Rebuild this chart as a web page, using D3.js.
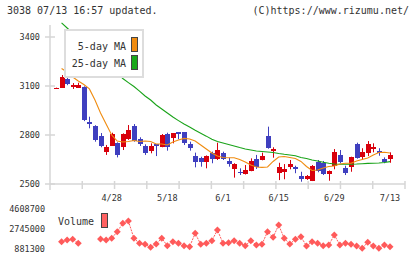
<!DOCTYPE html>
<html lang="en">
<meta charset="utf-8">
<head>
    <script src='https://d3js.org/d3.v7.min.js'></script>
    <style>
        body { margin: 0; background: #fff; }
        text { font-family: "DejaVu Sans Mono", monospace; fill: #333; }
    </style>
</head>
<body>
<div id="chart"></div>

<script>
// trading days shown
const dates = ["4/14","4/15","4/16","4/17","4/20","4/21","4/22","4/23","4/24","4/27",
    "4/28","4/30","5/1","5/7","5/8","5/11","5/12","5/13","5/14","5/15",
    "5/18","5/19","5/20","5/21","5/22","5/25","5/26","5/27","5/28","5/29",
    "6/1","6/2","6/3","6/4","6/5","6/8","6/9","6/10","6/11","6/12",
    "6/15","6/16","6/17","6/18","6/19","6/22","6/23","6/24","6/25","6/26",
    "6/29","6/30","7/1","7/2","7/3","7/6","7/7","7/8","7/9","7/10","7/13"];
const dateLabels = ["4/28","5/18","6/1","6/15","6/29","7/13"];

const open = [3085,3088,3143,3092,3090,3092,2881,2855,2794,2698,
    2733,2749,2728,2774,2855,2774,2733,2704,2743,2728,
    2806,2783,2816,2816,2745,2671,2661,2637,2688,2653,
    2692,2641,2592,2575,2561,2581,2653,2647,2794,2702,
    2566,2575,2606,2604,2551,2531,2520,2637,2630,2559,
    2612,2678,2600,2606,2745,2667,2692,2714,2704,2653,2653];
const high = [3090,3167,3157,3118,3120,3098,2912,2860,2812,2739,
    2814,2755,2810,2861,2867,2786,2743,2749,2745,2806,
    2814,2812,2816,2818,2759,2692,2667,2675,2698,2753,
    2698,2661,2627,2596,2616,2657,2678,2692,2851,2725,
    2630,2622,2647,2612,2575,2555,2616,2647,2641,2583,
    2714,2708,2612,2667,2753,2719,2763,2749,2719,2663,2694];
const low = [3085,3088,3105,3082,3088,2885,2841,2759,2725,2678,
    2733,2663,2708,2770,2759,2733,2678,2688,2671,2725,
    2704,2749,2774,2739,2704,2602,2606,2596,2627,2647,
    2647,2606,2539,2555,2558,2578,2592,2645,2716,2661,
    2524,2529,2590,2566,2514,2525,2518,2572,2555,2520,
    2590,2627,2555,2575,2655,2647,2671,2694,2673,2627,2630];
const close = [3088,3155,3110,3106,3106,2892,2867,2769,2733,2728,
    2806,2678,2806,2831,2765,2745,2688,2733,2735,2800,
    2725,2810,2806,2749,2719,2637,2637,2671,2653,2708,
    2653,2621,2622,2566,2586,2641,2602,2673,2719,2714,
    2602,2592,2622,2592,2531,2551,2610,2580,2559,2580,
    2698,2637,2566,2663,2657,2698,2745,2728,2688,2637,2678];

// moving averages as drawn
const ma5 = [null,3207,3186,3155,3131,3109,3082,3014,2935,2867,
    2800,2763,2757,2760,2766,2760,2763,2760,2745,2745,
    2739,2757,2769,2779,2776,2763,2739,2714,2690,2671,
    2662,2661,2661,2650,2635,2616,2604,2602,2604,2638,
    2665,2668,2662,2656,2638,2607,2583,2586,2598,2607,
    2610,2622,2627,2627,2641,2650,2659,2678,2693,2694,2690];
const ma25 = [null,3486,3455,3424,3394,3363,3333,3302,3271,3241,
    3210,3180,3146,3121,3097,3069,3039,3014,2984,2959,
    2935,2910,2888,2867,2849,2829,2811,2793,2774,2760,
    2751,2742,2733,2723,2714,2708,2702,2699,2696,2693,
    2687,2682,2678,2673,2662,2656,2647,2641,2633,2627,
    2622,2621,2621,2621,2622,2624,2626,2627,2629,2632,2637];

const volume = [null,1560000,1720000,1785000,1412000,null,null,null,1813000,1720000,
    1878000,2493000,3276000,3490000,1878000,1412000,1319000,1040000,1347000,1878000,
    1189000,1560000,1412000,1189000,1096000,2344000,1319000,1412000,1655000,2652000,
    1412000,1468000,1655000,1412000,1189000,1655000,1254000,1319000,2493000,1972000,
    3118000,1878000,1347000,1785000,2027000,1161000,1560000,1412000,1189000,1254000,
    2186000,1254000,1412000,1319000,1161000,947000,1506000,1161000,947000,1254000,1096000];

const priceTicks = [2500, 2800, 3100, 3400];
const volTicks = [881300, 2745000, 4608700];

const W = 420, H = 259;
const up = "#d8000c", down = "#3f3fbf";
const axisColor = "#d6d6d6";

var svg = d3.select('#chart')
    .append("svg")
    .attr("width", W)
    .attr("height", H);

// scales
var x = d3.scalePoint().domain(dates).range([56, 390]);
var y = d3.scaleLinear().domain([2500, 3400]).range([184, 37]);
var yv = d3.scaleLinear().domain([881300, 4608700]).range([249, 209]);

svg.append("clipPath").attr("id", "plot")
    .append("rect").attr("x", 50).attr("y", 22).attr("width", 356).attr("height", 163);

// header
svg.append("text").attr("x", 7).attr("y", 14).style("font-size", "10px")
    .text("3038 07/13 16:57 updated.");
svg.append("text").attr("x", 409).attr("y", 14).attr("text-anchor", "end").style("font-size", "10px")
    .text("(C)https://www.rizumu.net/");

// y axis
svg.append("line").attr("x1", 50).attr("x2", 50).attr("y1", 25).attr("y2", 190)
    .attr("stroke", axisColor).attr("stroke-width", 1.5);
svg.selectAll(".ytick").data(priceTicks).enter().append("line")
    .attr("x1", 45).attr("x2", 55)
    .attr("y1", d => y(d)).attr("y2", d => y(d))
    .attr("stroke", axisColor).attr("stroke-width", 1.5);
svg.selectAll(".ylab").data(priceTicks).enter().append("text")
    .attr("x", 40).attr("y", d => y(d)).attr("dy", "0.35em")
    .attr("text-anchor", "end").style("font-size", "8.5px")
    .text(d => d);

// x axis
svg.append("line").attr("x1", 50).attr("x2", 405).attr("y1", 184).attr("y2", 184)
    .attr("stroke", axisColor).attr("stroke-width", 1.5);
var grid = d3.scaleLinear().domain([0, 11]).range([50, 405]);
svg.selectAll(".xtick").data(d3.range(1, 12)).enter().append("line")
    .attr("x1", d => grid(d)).attr("x2", d => grid(d))
    .attr("y1", 181).attr("y2", 189)
    .attr("stroke", axisColor).attr("stroke-width", 1.5);
svg.selectAll(".xlab").data(dateLabels).enter().append("text")
    .attr("x", d => x(d)).attr("y", 201)
    .attr("text-anchor", "middle").style("font-size", "8.5px")
    .text(d => d);

var plot = svg.append("g").attr("clip-path", "url(#plot)");

// candles
var idx = d3.range(dates.length);
plot.selectAll(".wick").data(idx).enter().append("line")
    .attr("x1", i => Math.round(x(dates[i])) + 0.5)
    .attr("x2", i => Math.round(x(dates[i])) + 0.5)
    .attr("y1", i => y(high[i])).attr("y2", i => y(low[i]))
    .attr("stroke", i => close[i] >= open[i] ? up : down)
    .attr("stroke-width", 1);
plot.selectAll(".body").data(idx).enter().append("rect")
    .attr("x", i => Math.round(x(dates[i])) - 2)
    .attr("width", 5)
    .attr("y", i => y(Math.max(open[i], close[i])))
    .attr("height", i => Math.max(1, Math.abs(y(open[i]) - y(close[i]))))
    .attr("fill", i => close[i] >= open[i] ? up : down)
    .attr("shape-rendering", "crispEdges");

// moving averages
function maLine(vals) {
    return d3.line()
        .defined(i => vals[i] != null)
        .x(i => x(dates[i]))
        .y(i => y(vals[i]));
}
plot.append("path").datum(idx)
    .attr("fill", "none").attr("stroke", "#19a319").attr("stroke-width", 1.1)
    .attr("d", maLine(ma25));
plot.append("path").datum(idx)
    .attr("fill", "none").attr("stroke", "#f08c10").attr("stroke-width", 1.1)
    .attr("d", maLine(ma5));

// legend
var lg = svg.append("g");
lg.append("rect").attr("x", 65).attr("y", 30).attr("width", 78).attr("height", 47)
    .attr("fill", "#fff").attr("stroke", "#ddd").attr("stroke-width", 2);
lg.append("text").attr("x", 126).attr("y", 50).attr("text-anchor", "end").style("font-size", "10px").text("5-day MA");
lg.append("text").attr("x", 126).attr("y", 67).attr("text-anchor", "end").style("font-size", "10px").text("25-day MA");
lg.append("rect").attr("x", 131.5).attr("y", 37.5).attr("width", 6).attr("height", 14)
    .attr("fill", "#f08c10").attr("stroke", "#444");
lg.append("rect").attr("x", 131.5).attr("y", 55.5).attr("width", 6).attr("height", 14)
    .attr("fill", "#19a819").attr("stroke", "#444");

// volume panel
svg.selectAll(".vlab").data(volTicks).enter().append("text")
    .attr("x", 45).attr("y", d => yv(d)).attr("dy", "0.35em")
    .attr("text-anchor", "end").style("font-size", "8.5px")
    .text(d => d);
svg.append("text").attr("x", 58).attr("y", 225).style("font-size", "10px").text("Volume");
svg.append("rect").attr("x", 101.5).attr("y", 213.5).attr("width", 6).attr("height", 14)
    .attr("fill", "#ff6262").attr("stroke", "#444");

var volColor = "#ff5a5a";
svg.append("path").datum(idx)
    .attr("fill", "none").attr("stroke", volColor).attr("stroke-width", 1)
    .attr("stroke-dasharray", "2,1")
    .attr("d", d3.line()
        .defined(i => volume[i] != null)
        .x(i => x(dates[i]))
        .y(i => yv(volume[i])));
svg.selectAll(".vdot").data(idx.filter(i => volume[i] != null)).enter().append("path")
    .attr("transform", i => "translate(" + x(dates[i]) + "," + yv(volume[i]) + ")")
    .attr("d", "M0,-3.5L3.5,0L0,3.5L-3.5,0Z")
    .attr("fill", volColor);
</script>
</body>
</html>
